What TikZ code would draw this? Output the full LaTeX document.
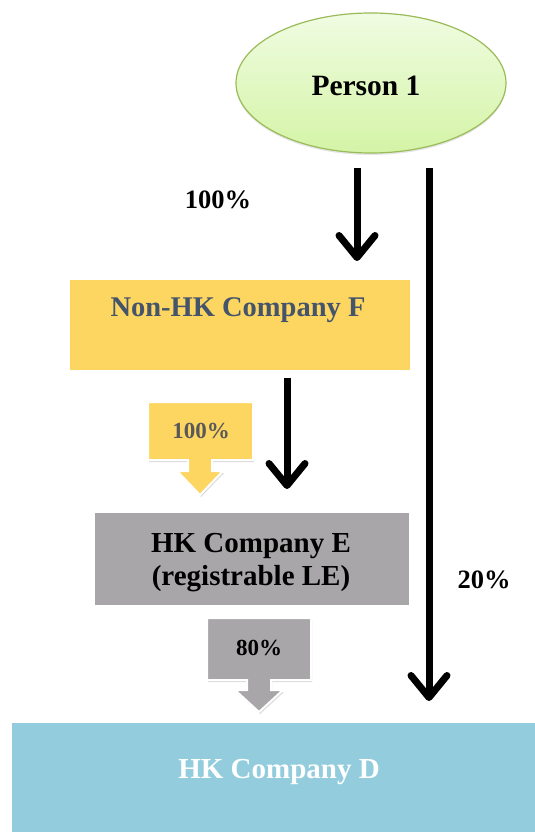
\documentclass[tikz,border=0pt]{standalone}
\usepackage{fontspec}
\setmainfont{Liberation Serif}
\usetikzlibrary{arrows.meta,shapes.geometric,shadows}
\definecolor{fyel}{HTML}{FDD561}
\definecolor{ftxt}{HTML}{44546A}
\definecolor{egray}{HTML}{A8A6A8}
\definecolor{dblue}{HTML}{93CDDD}
\definecolor{etop}{HTML}{F0FCE2}
\definecolor{ebot}{HTML}{D4F4A6}
\definecolor{eline}{HTML}{9BBB59}
\definecolor{ctxt}{HTML}{595959}
\tikzset{
  boxshape/.style={rectangle, draw=none, inner sep=0pt},
  lbl/.style={font=\bfseries\fontsize{26.5}{30}\selectfont, inner sep=0pt},
  blackarrow/.style={line width=7pt, -{Straight Barb[length=22pt,width=36pt,line cap=round,line join=round]}},
  callout/.style={draw=white, line width=2pt, drop shadow={shadow xshift=1pt,shadow yshift=-2pt,opacity=0.3}},
}
\begin{document}
\begin{tikzpicture}[x=1pt,y=-1pt]
\useasboundingbox (0,0) rectangle (535,832);
% Person 1
\node[ellipse, draw=eline, line width=1.2pt, top color=etop, bottom color=ebot,
      minimum width=270pt, minimum height=140pt, inner sep=0pt,
      drop shadow={shadow xshift=0pt,shadow yshift=-2pt,opacity=0.2}] (p1) at (371,83) {};
\node[lbl, font=\bfseries\fontsize{29.5}{32}\selectfont] (p1t) at (366,86) {Person 1};
% boxes
\node[boxshape, fill=fyel, minimum width=340pt, minimum height=90pt] (F) at (240,325) {};
\node[lbl, text=ftxt, font=\bfseries\fontsize{28.5}{30}\selectfont] (Ft) at (238,310) {Non-HK Company F};
\node[boxshape, fill=egray, minimum width=314pt, minimum height=92pt] (E) at (252,559) {};
\node[lbl, align=center, font=\bfseries\fontsize{29}{33}\selectfont] (Et) at (251,563) {HK Company E\\(registrable LE)};
\node[boxshape, fill=dblue, minimum width=524pt, minimum height=110pt] (D) at (274,778) {};
\node[lbl, text=white, font=\bfseries\fontsize{29}{30}\selectfont] (Dt) at (279,772) {HK Company D};
% callout arrows
\fill[fyel, callout] (148,402) -- (253,402) -- (253,460) -- (212,460) -- (212,471) -- (223,471)
  -- (200,495) -- (177,471) -- (188,471) -- (188,460) -- (148,460) -- cycle;
\node[lbl, text=ctxt, font=\bfseries\fontsize{23}{26}\selectfont] (c1) at (201,431) {100\%};
\fill[egray, callout] (207,618) -- (311,618) -- (311,680) -- (271,680) -- (271,690) -- (283,690)
  -- (259,712) -- (235,690) -- (247,690) -- (247,680) -- (207,680) -- cycle;
\node[lbl, font=\bfseries\fontsize{23}{26}\selectfont] (c2) at (259,648) {80\%};
% black arrows
\coordinate (a1s) at (357,168);
\coordinate (a1e) at (357,261);
\coordinate (a2s) at (287,378);
\coordinate (a2e) at (287,489);
\coordinate (a3s) at (429,168);
\coordinate (a3e) at (429,701);
\draw[blackarrow] (a1s) -- (a1e);
\draw[blackarrow] (a2s) -- (a2e);
\draw[blackarrow] (a3s) -- (a3e);
% labels
\node[lbl] (l100) at (218,200) {100\%};
\node[lbl] (l20) at (484,580) {20\%};
\end{tikzpicture}
\end{document}
